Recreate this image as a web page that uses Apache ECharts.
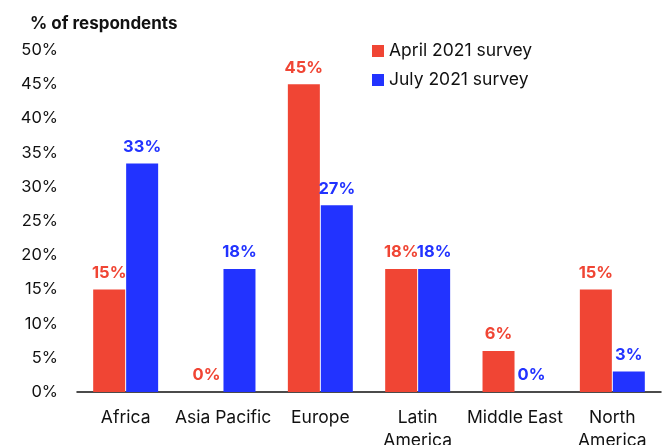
<!DOCTYPE html>
<html style="height: 100%">
<head>
<meta charset="utf-8" />
<title>Survey chart</title>
<script src="https://cdn.jsdelivr.net/npm/echarts@6/dist/echarts.min.js"></script>
</head>
<body style="height: 100%; margin: 0; background: #fff">
<div id="container" style="width: 663px; height: 445px"></div>
<script type="text/javascript">
var regions = ['Africa', 'Asia Pacific', 'Europe', 'Latin\nAmerica', 'Middle East', 'North\nAmerica'];
var april = [15, 0, 45, 18, 6, 15];
var july = [33.4, 18, 27.3, 18, 0, 3];
var seriesNames = ['April 2021 survey', 'July 2021 survey'];
var colors = ['#F04534', '#2233FF'];

var font = 'Inter, "Noto Sans", sans-serif';
var chart = echarts.init(document.getElementById('container'));

function makeSeries(name, data, color) {
    return {
        name: name,
        type: 'bar',
        data: data,
        barWidth: 32,
        barGap: '3%',
        itemStyle: { color: color },
        label: {
            show: true,
            position: 'top',
            distance: 8,
            color: color,
            fontFamily: font,
            fontWeight: 'bold',
            fontSize: 16.5,
            formatter: function (p) { return Math.round(p.value) + '%'; }
        }
    };
}

var option = {
    animation: false,
    color: colors,
    textStyle: { fontFamily: font },
    title: {
        text: '% of respondents',
        left: 25,
        top: 10,
        textStyle: { fontFamily: font, fontSize: 17, fontWeight: 'bold', color: '#111' }
    },
    legend: {
        orient: 'vertical',
        left: 367,
        top: 37,
        itemWidth: 12,
        itemHeight: 12,
        itemGap: 11,
        icon: 'rect',
        textStyle: { fontFamily: font, fontSize: 17.5, color: '#111' },
        data: seriesNames
    },
    grid: { left: 77, right: 2, top: 50, bottom: 53, containLabel: false, outerBoundsMode: 'none' },
    xAxis: {
        type: 'category',
        data: regions,
        axisLine: { lineStyle: { color: '#111', width: 1.5 } },
        axisTick: { show: false },
        axisLabel: { fontFamily: font, fontSize: 17.5, color: '#111', margin: 14, lineHeight: 23, interval: 0 }
    },
    yAxis: {
        type: 'value',
        min: 0,
        max: 50,
        interval: 5,
        splitLine: { show: false },
        axisLine: { show: false },
        axisTick: { show: false },
        axisLabel: { fontFamily: font, fontSize: 16.5, color: '#111', margin: 19, formatter: '{value}%' }
    },
    series: [
        makeSeries(seriesNames[0], april, colors[0]),
        makeSeries(seriesNames[1], july, colors[1])
    ]
};
chart.setOption(option);
</script>
</body>
</html>
